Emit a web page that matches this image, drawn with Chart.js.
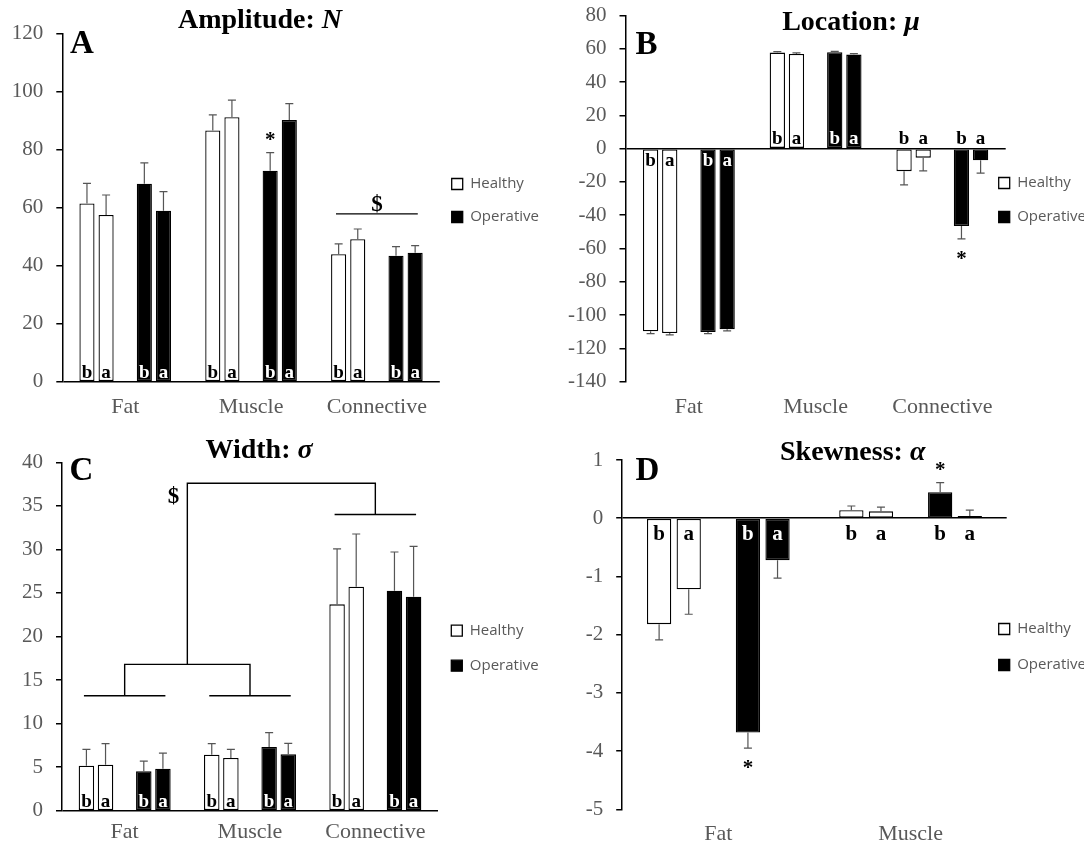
<!DOCTYPE html>
<html>
<head>
<meta charset="utf-8">
<script src="https://cdn.jsdelivr.net/npm/chart.js@4.4.1/dist/chart.umd.min.js"></script>
<style>
  html, body { margin: 0; padding: 0; background: #fff; }
  #wrap { position: relative; width: 1084px; height: 847px; overflow: hidden; background: #fff; }
  #wrap canvas { position: absolute; }
</style>
</head>
<body>
<div id="wrap">
  <canvas id="chartA" width="545" height="423" style="left:0px;top:0px"></canvas>
  <canvas id="chartB" width="539" height="423" style="left:545px;top:0px"></canvas>
  <canvas id="chartC" width="545" height="424" style="left:0px;top:423px"></canvas>
  <canvas id="chartD" width="539" height="424" style="left:545px;top:423px"></canvas>
</div>
<script>
// ---- categories ----
const tissues = ['Fat', 'Muscle', 'Connective'];
const skewTissues = ['Fat', 'Muscle'];

// ---- Amplitude N (b = before, a = after), with one-sided error ----
const ampHealthyB = [61.4, 86.5, 43.9];
const ampHealthyA = [57.4, 91.1, 49.1];
const ampOperativeB = [68.2, 72.7, 43.4];
const ampOperativeA = [58.9, 90.1, 44.4];
const ampHealthyBErr = [6.9, 5.4, 3.6];
const ampHealthyAErr = [6.9, 5.9, 3.5];
const ampOperativeBErr = [7.2, 6.2, 3.1];
const ampOperativeAErr = [6.6, 5.7, 2.5];

// ---- Location mu ----
const locHealthyB = [-109.7, 57.7, -13.5];
const locHealthyA = [-110.7, 56.9, -5.4];
const locOperativeB = [-110.1, 57.9, -46.4];
const locOperativeA = [-108.5, 56.5, -7.0];
const locHealthyBErr = [1.4, 0.6, 8.2];
const locHealthyAErr = [1.2, 0.6, 7.9];
const locOperativeBErr = [1.0, 0.6, 7.8];
const locOperativeAErr = [1.0, 0.6, 7.7];

// ---- Width sigma ----
const widHealthyB = [5.17, 6.43, 23.69];
const widHealthyA = [5.28, 6.05, 25.72];
const widOperativeB = [4.52, 7.31, 25.26];
const widOperativeA = [4.82, 6.47, 24.57];
const widHealthyBErr = [1.87, 1.26, 6.36];
const widHealthyAErr = [2.41, 0.99, 6.05];
const widOperativeBErr = [1.18, 1.65, 4.44];
const widOperativeAErr = [1.80, 1.26, 5.78];

// ---- Skewness alpha ----
const skwHealthyB = [-1.82, 0.136];
const skwHealthyA = [-1.22, 0.118];
const skwOperativeB = [-3.68, 0.445];
const skwOperativeA = [-0.72, 0.038];
const skwHealthyBErr = [0.27, 0.074];
const skwHealthyAErr = [0.43, 0.072];
const skwOperativeBErr = [0.27, 0.165];
const skwOperativeAErr = [0.31, 0.10];

// ---- y-axis ticks: [min, max, step] ----
const ampTicks = [0, 120, 20];
const locTicks = [-140, 80, 20];
const widTicks = [0, 40, 5];
const skwTicks = [-5, 1, 1];

// ---- significance: [series (0 HB, 1 HA, 2 OB, 3 OA), category] ----
const ampStars = [[2, 1]];
const locStars = [[2, 2]];
const widStars = [];
const skwStars = [[2, 0], [2, 1]];

// ---- tissue-effect brackets, in category / value units ----
const ampBracketLines = [[[1.675, 57.8], [2.325, 57.8]]];
const ampDollar = [2, 61.4];
const widBracketLines = [
  [[-0.325, 13.2], [0.325, 13.2]],
  [[0.675, 13.2], [1.325, 13.2]],
  [[0, 13.2], [0, 16.8], [1, 16.8], [1, 13.2]],
  [[0.5, 16.8], [0.5, 37.6], [2, 37.6], [2, 34.0]],
  [[1.675, 34.0], [2.325, 34.0]]
];
const widDollar = [0.39, 36.2];

const SERIF = "'Liberation Serif', 'Times New Roman', serif";
const SANS = "'Open Sans', 'Liberation Sans', sans-serif";
const GREY = '#595959';

const panels = {
  chartA: {
    title: 'Amplitude: ', symbol: 'N', letter: 'A', labels: tissues,
    series: [ampHealthyB, ampHealthyA, ampOperativeB, ampOperativeA],
    errors: [ampHealthyBErr, ampHealthyAErr, ampOperativeBErr, ampOperativeAErr],
    ticks: ampTicks, stars: ampStars, lines: ampBracketLines, dollar: ampDollar,
    area: { left: 62.3, right: 439.8, top: 33.3, bottom: 381.7 }, w: 545, h: 423,
    xPad: 12.7, catPct: 0.76, barPct: 0.79,
    titleX: 260, titleY: 28, letterX: 70, letterY: 53.3,
    legendX: 451.7, legendMid: 184, legendGap: 18,
    tagSize: 19, tagSide: ['above', 'above', 'above'], tagAbove: 4, tagBelow: 17.6
  },
  chartB: {
    title: 'Location: ', symbol: 'μ', letter: 'B', labels: tissues,
    series: [locHealthyB, locHealthyA, locOperativeB, locOperativeA],
    errors: [locHealthyBErr, locHealthyAErr, locOperativeBErr, locOperativeAErr],
    ticks: locTicks, stars: locStars, lines: [], dollar: null,
    area: { left: 80.5, right: 460.7, top: 15.5, bottom: 381.7 }, w: 539, h: 423,
    xPad: 12.7, catPct: 0.755, barPct: 0.8,
    titleX: 306, titleY: 29.5, letterX: 90.4, letterY: 54,
    legendX: 453.7, legendMid: 183, legendGap: 19,
    tagSize: 19, tagSide: ['below', 'above', 'above'], tagAbove: 4.5, tagBelow: 17.6
  },
  chartC: {
    title: 'Width: ', symbol: 'σ', letter: 'C', labels: tissues,
    series: [widHealthyB, widHealthyA, widOperativeB, widOperativeA],
    errors: [widHealthyBErr, widHealthyAErr, widOperativeBErr, widOperativeAErr],
    ticks: widTicks, stars: widStars, lines: widBracketLines, dollar: widDollar,
    area: { left: 62, right: 438, top: 39.3, bottom: 387.7 }, w: 545, h: 424,
    xPad: 8, catPct: 0.763, barPct: 0.81,
    titleX: 259, titleY: 34.8, letterX: 69.5, letterY: 57,
    legendX: 451.3, legendMid: 207.7, legendGap: 20,
    tagSize: 19, tagSide: ['above', 'above', 'above'], tagAbove: 4, tagBelow: 17.6
  },
  chartD: {
    title: 'Skewness: ', symbol: 'α', letter: 'D', labels: skewTissues,
    series: [skwHealthyB, skwHealthyA, skwOperativeB, skwOperativeA],
    errors: [skwHealthyBErr, skwHealthyAErr, skwOperativeBErr, skwOperativeAErr],
    ticks: skwTicks, stars: skwStars, lines: [], dollar: null,
    area: { left: 77.2, right: 461.7, top: 37, bottom: 386.3 }, w: 539, h: 424,
    xPad: 11.8, catPct: 0.77, barPct: 0.82,
    titleX: 307.7, titleY: 36.5, letterX: 90.4, letterY: 57,
    legendX: 453.7, legendMid: 206, legendGap: 21,
    tagSize: 21, tagSide: ['below', 'below'], tagAbove: 4, tagBelow: 22
  }
};

// dataset slot -> series index (slot 2 is the empty gap between the pairs)
const SLOT_OF_SERIES = [0, 1, 3, 4];

const panelDecor = {
  id: 'panelDecor',
  afterLayout(chart) {
    const p = panels[chart.canvas.id];
    const L = chart.legend;
    if (!p || !L) return;
    const w = L.width, h = L.height;
    L.left = p.legendX - p.legendGap;
    L.right = L.left + w;
    L.top = p.legendMid - 7.5 - p.legendGap;
    L.bottom = L.top + h;
  },
  afterDatasetsDraw(chart) {
    const p = panels[chart.canvas.id];
    if (!p) return;
    const ctx = chart.ctx;
    const xs = chart.scales.x, ys = chart.scales.y;
    const zero = ys.getPixelForValue(0);
    ctx.save();

    // error bars, pointing away from zero
    ctx.strokeStyle = '#555';
    ctx.lineWidth = 1.2;
    p.series.forEach((vals, s) => {
      const meta = chart.getDatasetMeta(SLOT_OF_SERIES[s]);
      vals.forEach((v, i) => {
        const bar = meta.data[i];
        const e = p.errors[s][i];
        const yEnd = ys.getPixelForValue(v >= 0 ? v + e : v - e);
        ctx.beginPath();
        ctx.moveTo(bar.x, bar.y);
        ctx.lineTo(bar.x, yEnd);
        ctx.moveTo(bar.x - 4, yEnd);
        ctx.lineTo(bar.x + 4, yEnd);
        ctx.stroke();
      });
    });

    // b / a tags
    ctx.font = `bold ${p.tagSize}px ${SERIF}`;
    ctx.textAlign = 'center';
    ctx.textBaseline = 'alphabetic';
    p.series.forEach((vals, s) => {
      const ds = chart.data.datasets[SLOT_OF_SERIES[s]];
      const meta = chart.getDatasetMeta(SLOT_OF_SERIES[s]);
      const dark = s >= 2;
      vals.forEach((v, i) => {
        const bar = meta.data[i];
        const side = p.tagSide[i];
        const inside = (side === 'above' && v > 0) || (side === 'below' && v < 0);
        ctx.fillStyle = dark && inside ? '#fff' : '#000';
        const y = side === 'above' ? zero - p.tagAbove : zero + p.tagBelow;
        ctx.fillText(ds.phase, bar.x, y);
      });
    });

    // asterisks beyond the error bar
    ctx.fillStyle = '#000';
    ctx.font = `bold 21px ${SERIF}`;
    p.stars.forEach(([s, i]) => {
      const v = p.series[s][i];
      const e = p.errors[s][i];
      const bar = chart.getDatasetMeta(SLOT_OF_SERIES[s]).data[i];
      const yEnd = ys.getPixelForValue(v >= 0 ? v + e : v - e);
      const cy = v >= 0 ? yEnd - 16.5 : yEnd + 16;
      ctx.fillText('*', bar.x, cy + 10);
    });

    // brackets and $ marks
    ctx.strokeStyle = '#000';
    ctx.lineWidth = 1.4;
    p.lines.forEach(path => {
      ctx.beginPath();
      path.forEach(([cx, val], k) => {
        const px = xs.getPixelForValue(cx), py = ys.getPixelForValue(val);
        if (k === 0) ctx.moveTo(px, py); else ctx.lineTo(px, py);
      });
      ctx.stroke();
    });
    if (p.dollar) {
      ctx.font = `bold 23px ${SERIF}`;
      ctx.fillText('$', xs.getPixelForValue(p.dollar[0]), ys.getPixelForValue(p.dollar[1]) + 7.5);
    }
    ctx.restore();
  },
  afterDraw(chart) {
    const p = panels[chart.canvas.id];
    if (!p) return;
    const ctx = chart.ctx;
    ctx.save();
    ctx.fillStyle = '#000';
    ctx.textAlign = 'left';
    ctx.textBaseline = 'alphabetic';
    const fBold = `bold 28px ${SERIF}`;
    const fItal = `italic bold 28px ${SERIF}`;
    ctx.font = fBold;
    const w1 = ctx.measureText(p.title).width;
    ctx.font = fItal;
    const w2 = ctx.measureText(p.symbol).width;
    const x0 = p.titleX - (w1 + w2) / 2;
    ctx.font = fBold;
    ctx.fillText(p.title, x0, p.titleY);
    ctx.font = fItal;
    ctx.fillText(p.symbol, x0 + w1, p.titleY);
    ctx.font = `bold 33px ${SERIF}`;
    ctx.fillText(p.letter, p.letterX, p.letterY);
    ctx.restore();
  }
};
Chart.register(panelDecor);

function makeChart(id) {
  const p = panels[id];
  const gapData = p.labels.map(() => null);
  const white = { backgroundColor: '#ffffff', borderColor: '#000000', borderWidth: 1.3 };
  const black = { backgroundColor: '#000000', borderColor: '#000000', borderWidth: 1.3 };
  const datasets = [
    Object.assign({ label: 'Healthy', phase: 'b', data: p.series[0] }, white),
    Object.assign({ label: 'Healthy', phase: 'a', data: p.series[1] }, white),
    { label: '', phase: '', data: gapData },
    Object.assign({ label: 'Operative', phase: 'b', data: p.series[2] }, black),
    Object.assign({ label: 'Operative', phase: 'a', data: p.series[3] }, black)
  ];
  const a = p.area;
  return new Chart(document.getElementById(id), {
    type: 'bar',
    data: { labels: p.labels, datasets },
    options: {
      responsive: false,
      animation: false,
      devicePixelRatio: 1,
      events: [],
      layout: { padding: { left: 0, right: p.w - a.right, top: a.top, bottom: 0 } },
      datasets: { bar: { categoryPercentage: p.catPct, barPercentage: p.barPct, borderSkipped: false } },
      scales: {
        x: {
          type: 'category',
          offset: true,
          grid: { display: false, drawTicks: false },
          border: { display: false },
          ticks: { font: { family: SERIF, size: 22 }, color: GREY, padding: p.xPad, autoSkip: false, maxRotation: 0 },
          afterFit: s => { s.height = p.h - a.bottom; s.paddingLeft = 0; s.paddingRight = 0; }
        },
        y: {
          min: p.ticks[0], max: p.ticks[1],
          ticks: {
            stepSize: p.ticks[2], maxTicksLimit: 50,
            font: { family: SERIF, size: 21 }, color: GREY, padding: 13,
            callback: v => String(v)
          },
          grid: {
            drawOnChartArea: true,
            color: c => (c.tick && c.tick.value === 0) ? '#000000' : 'rgba(0,0,0,0)',
            lineWidth: 1.5,
            tickLength: 6,
            tickColor: '#000000',
            tickWidth: 1.5
          },
          border: { display: true, color: '#000000', width: 1.5 },
          afterFit: s => { s.width = a.left; s.paddingTop = 0; s.paddingBottom = 0; }
        }
      },
      plugins: {
        title: { display: false },
        tooltip: { enabled: false },
        legend: {
          position: 'chartArea',
          align: 'start',
          labels: {
            boxWidth: 11, boxHeight: 11, padding: p.legendGap,
            font: { family: SANS, size: 15 }, color: GREY,
            filter: item => item.datasetIndex === 0 || item.datasetIndex === 3
          }
        }
      }
    }
  });
}

['chartA', 'chartB', 'chartC', 'chartD'].forEach(makeChart);
</script>
</body>
</html>
